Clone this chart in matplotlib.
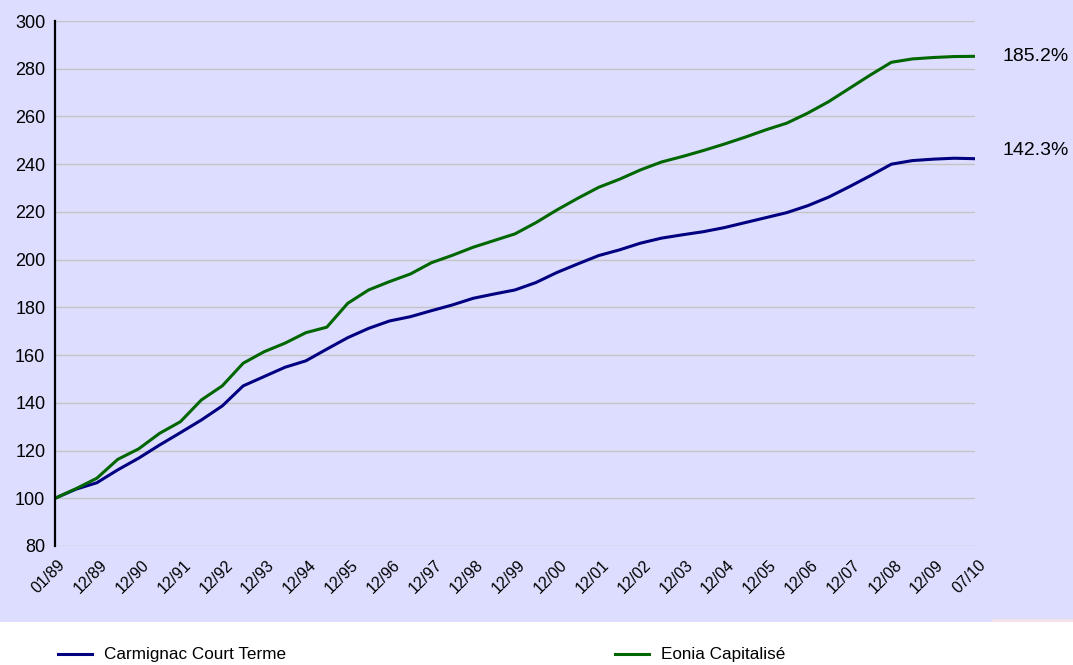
import matplotlib
matplotlib.use("Agg")
import matplotlib.pyplot as plt
from matplotlib.patches import Rectangle
from matplotlib.lines import Line2D
from matplotlib.transforms import ScaledTranslation, blended_transform_factory

plt.rcParams['font.family'] = ['Liberation Sans', 'DejaVu Sans']

# semi-annual points, 01/89 -> 07/10
tick_labels = ['01/89', '12/89', '12/90', '12/91', '12/92', '12/93', '12/94', '12/95',
               '12/96', '12/97', '12/98', '12/99', '12/00', '12/01', '12/02', '12/03',
               '12/04', '12/05', '12/06', '12/07', '12/08', '12/09', '07/10']

carmignac = [100.0, 103.8, 106.5, 111.9, 116.8, 122.3, 127.5, 132.8, 138.7, 147.1,
             151.0, 154.9, 157.6, 162.5, 167.3, 171.2, 174.3, 176.1, 178.6, 181.0,
             183.8, 185.6, 187.3, 190.4, 194.6, 198.2, 201.7, 204.1, 206.9, 209.0,
             210.4, 211.7, 213.4, 215.5, 217.6, 219.7, 222.6, 226.2, 230.6, 235.2,
             240.0, 241.5, 242.1, 242.5, 242.3]

eonia = [100.0, 104.0, 108.4, 116.3, 120.7, 127.2, 132.1, 141.2, 147.1, 156.6,
         161.4, 165.0, 169.4, 171.7, 181.7, 187.3, 190.8, 194.0, 198.7, 201.8,
         205.2, 208.0, 210.8, 215.5, 220.8, 225.7, 230.3, 233.7, 237.6, 240.9,
         243.2, 245.7, 248.4, 251.3, 254.4, 257.2, 261.4, 266.2, 271.8, 277.4,
         282.7, 284.1, 284.7, 285.1, 285.2]

perf_labels = ['185.2%', '142.3%']
perf_y = [285.2, 245.8]

bg = '#DDDDFF'
navy = '#000080'
green = '#006600'

W, H = 1073, 665
fig = plt.figure(figsize=(W / 100, H / 100), dpi=100, facecolor='white')
fig.patches.append(Rectangle((0, 43 / H), 1, 1 - 43 / H, transform=fig.transFigure,
                             facecolor=bg, edgecolor='none', zorder=-2))
fig.patches.append(Rectangle((992 / W, 43 / H), 81 / W, 3 / H, transform=fig.transFigure,
                             facecolor='#F3E2EA', edgecolor='none', zorder=-1))

ax = fig.add_axes([55 / W, (H - 546) / H, 920 / W, 525 / H])
ax.set_facecolor(bg)

x = list(range(len(eonia)))
ax.plot(x, carmignac, color=navy, lw=2.2, zorder=3)
ax.plot(x, eonia, color=green, lw=2.2, zorder=3)

ax.set_xlim(0, len(eonia) - 1)
ax.set_ylim(80, 300)
ax.set_yticks(range(80, 301, 20))
ax.yaxis.grid(True, color='#C4C4C4', lw=1.0)
ax.set_axisbelow(True)

ax.set_xticks(range(0, len(eonia), 2))
ax.set_xticklabels(tick_labels, rotation=45, ha='right', va='center',
                   rotation_mode='anchor', fontsize=11.5)
ax.tick_params(axis='x', length=0, pad=12)
ax.tick_params(axis='y', length=0, pad=7, labelsize=13)
off = ScaledTranslation(8 / 100, 0, fig.dpi_scale_trans)
for lab in ax.get_xticklabels():
    lab.set_transform(lab.get_transform() + off)

for side in ['top', 'right', 'bottom']:
    ax.spines[side].set_visible(False)
ax.spines['left'].set_color('black')
ax.spines['left'].set_linewidth(1.6)
ax.spines['left'].set_zorder(4)

tr = blended_transform_factory(fig.transFigure, ax.transData)
for lab, yv in zip(perf_labels, perf_y):
    ax.text(1003 / W, yv, lab, transform=tr, fontsize=14, va='center', ha='left',
            clip_on=False)

h1 = Line2D([], [], color=navy, lw=2.2)
h2 = Line2D([], [], color=green, lw=2.2)
fig.legend([h1], ['Carmignac Court Terme'], loc='center left',
           bbox_to_anchor=(49 / W, 10 / H), frameon=False, fontsize=12.3,
           borderpad=0, handlelength=2.0, handletextpad=0.7)
fig.legend([h2], ['Eonia Capitalisé'], loc='center left',
           bbox_to_anchor=(606 / W, 10 / H), frameon=False, fontsize=12.3,
           borderpad=0, handlelength=2.0, handletextpad=0.7)

fig.savefig('out.png', dpi=100, facecolor='white')
